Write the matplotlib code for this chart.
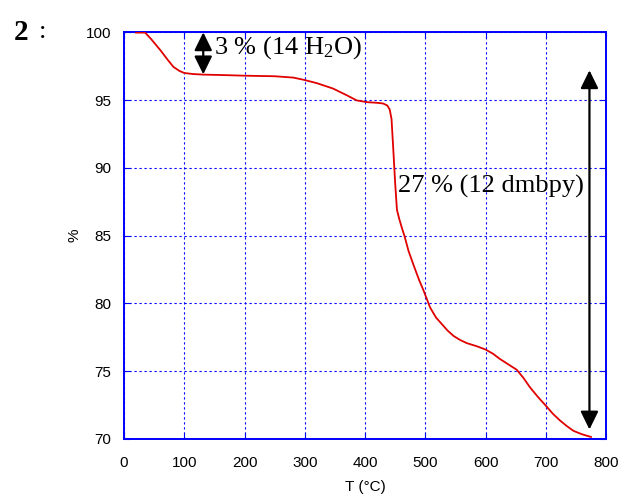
import matplotlib
matplotlib.use("Agg")
import matplotlib.pyplot as plt

"""
Thermogravimetric curve of compound 2 with the two mass-loss steps marked.
"""

# temperature (deg C) and remaining mass (%)
temperature = [20, 35, 45, 60, 72, 82, 92, 100, 115, 132, 170, 200, 250, 281,
               298, 320, 347, 370, 386, 403, 420, 430, 437, 441, 444, 447,
               450, 453, 457, 461, 466, 472, 480, 490, 497, 508, 518, 527,
               537, 547, 558, 569, 585, 600, 612, 624, 638, 652, 663, 674,
               687, 700, 712, 724, 735, 746, 760, 775]
mass = [99.98, 99.98, 99.5, 98.7, 98.0, 97.45, 97.15, 97.0, 96.92, 96.88, 96.84,
        96.8, 96.76, 96.66, 96.5, 96.25, 95.85, 95.35, 94.98, 94.85, 94.8, 94.75,
        94.6, 94.3, 93.6, 91.3, 88.9, 86.9, 86.2, 85.6, 84.9, 83.9, 82.9, 81.7,
        80.97, 79.7, 78.95, 78.5, 78.0, 77.6, 77.3, 77.07, 76.85, 76.6, 76.3,
        75.9, 75.5, 75.1, 74.5, 73.8, 73.1, 72.46, 71.85, 71.35, 70.95, 70.6,
        70.35, 70.15]

x_ticks = [0, 100, 200, 300, 400, 500, 600, 700, 800]
y_ticks = [70, 75, 80, 85, 90, 95, 100]

# the two mass-loss steps: (temperature, top, bottom, label, label x, label y)
water_step = (131.5, 100.0, 96.9, "3 % (14 H$_2$O)", 150, 98.9)
ligand_step = (772.5, 97.2, 70.7, "27 % (12 dmbpy)", 454, 88.6)

plt.rcParams["font.family"] = ["Liberation Sans", "DejaVu Sans"]
plt.rcParams["mathtext.fontset"] = "custom"
plt.rcParams["mathtext.rm"] = "Liberation Serif"
plt.rcParams["mathtext.it"] = "Liberation Serif:italic"

fig = plt.figure(figsize=(6.22, 4.98), dpi=100)
ax = fig.add_axes([0.1994, 0.1185, 0.7749, 0.8166])

ax.plot(temperature, mass, color="#e00000", lw=1.3, zorder=3)

ax.set_xlim(0, 800)
ax.set_ylim(70, 100)
ax.set_xticks(x_ticks)
ax.set_yticks(y_ticks)
ax.grid(True, color="#0000ff", linestyle=(0, (2, 2.5)), lw=0.8)
for side in ax.spines.values():
    side.set_color("#0000ff")
    side.set_linewidth(1.4)
ax.tick_params(direction="in", length=4, color="#0000ff", labelsize=11,
               top=True, right=True)
ax.tick_params(axis="x", pad=12.5)
ax.tick_params(axis="y", pad=9)

ax.set_xlabel("T (°C)", fontsize=11, labelpad=7)
ax.set_ylabel("%", fontsize=11, labelpad=3)

for t, top, bottom, label, lx, ly in (water_step, ligand_step):
    ax.annotate("", xy=(t, bottom), xytext=(t, top),
                arrowprops=dict(arrowstyle="<|-|>,head_length=0.55,head_width=0.27",
                                color="black", lw=1.6, shrinkA=0, shrinkB=0,
                                mutation_scale=20))
    ax.text(lx, ly, label, fontsize=19, family="Liberation Serif",
            va="center", ha="left", zorder=4)

fig.text(0.022, 0.935, "2", fontsize=21, fontweight="bold",
         family="Liberation Serif", va="center")
fig.text(0.062, 0.935, ":", fontsize=19, family="Liberation Serif", va="center")

fig.savefig("out.png", dpi=100)
